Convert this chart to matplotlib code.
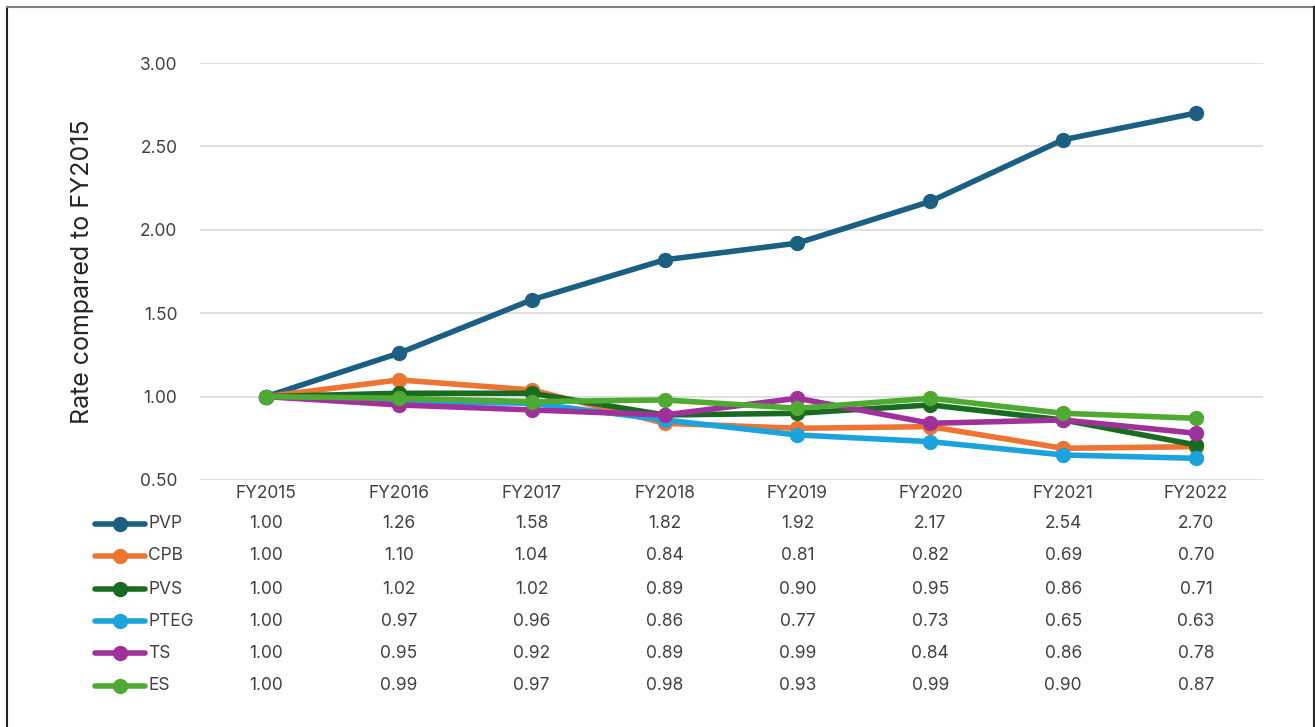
import matplotlib.pyplot as plt
from matplotlib.lines import Line2D
from matplotlib.transforms import blended_transform_factory

plt.rcParams['font.family'] = ['Inter', 'DejaVu Sans']

years = ["FY2015", "FY2016", "FY2017", "FY2018", "FY2019", "FY2020", "FY2021", "FY2022"]
series_names = ["PVP", "CPB", "PVS", "PTEG", "TS", "ES"]
pvp = [1.00, 1.26, 1.58, 1.82, 1.92, 2.17, 2.54, 2.70]
cpb = [1.00, 1.10, 1.04, 0.84, 0.81, 0.82, 0.69, 0.70]
pvs = [1.00, 1.02, 1.02, 0.89, 0.90, 0.95, 0.86, 0.71]
pteg = [1.00, 0.97, 0.96, 0.86, 0.77, 0.73, 0.65, 0.63]
ts = [1.00, 0.95, 0.92, 0.89, 0.99, 0.84, 0.86, 0.78]
es = [1.00, 0.99, 0.97, 0.98, 0.93, 0.99, 0.90, 0.87]
colors = ["#1b5f83", "#ee7433", "#1a6b22", "#1aa3dc", "#a0309a", "#4eaa33"]

all_series = [pvp, cpb, pvs, pteg, ts, es]

W, H = 1315, 727
fs = 12.5
fig = plt.figure(figsize=(W / 100, H / 100), dpi=100)
ax = fig.add_axes([199.5 / W, 1 - 480 / H, 1063 / W, 417 / H])

x = list(range(len(years)))
for name, vals, c in zip(series_names, all_series, colors):
    ax.plot(x, vals, color=c, lw=4, marker="o", ms=10, label=name, zorder=3,
            solid_capstyle="round")

ax.set_xlim(-0.5, len(years) - 0.5)
ax.set_ylim(0.5, 3.0)
ax.set_yticks([0.5, 1.0, 1.5, 2.0, 2.5, 3.0])
ax.set_yticklabels(["%.2f" % v for v in [0.5, 1.0, 1.5, 2.0, 2.5, 3.0]])
ax.set_xticks([])
ax.grid(axis="y", color="#d9d9d9", lw=1.2)
ax.tick_params(axis="y", length=0, labelsize=fs, labelcolor="#404040", pad=16)
for s in ax.spines.values():
    s.set_visible(False)
ax.set_ylabel("Rate compared to FY2015", fontsize=18, color="#262626", labelpad=33)

# data table below the chart
trans = blended_transform_factory(ax.transData, fig.transFigure)
for i, yr in enumerate(years):
    ax.text(i, 1 - 494 / H, yr, transform=trans, ha="center", va="center",
            fontsize=fs, color="#404040", clip_on=False)

row_y = [524, 556, 589, 621, 653, 686]
for name, vals, c, ry in zip(series_names, all_series, colors, row_y):
    fy = 1 - ry / H
    fig.add_artist(Line2D([95 / W, 145 / W], [fy, fy], color=c, lw=4,
                          solid_capstyle="round", transform=fig.transFigure))
    fig.add_artist(Line2D([120 / W], [fy], color=c, marker="o", ms=10, lw=0,
                          transform=fig.transFigure))
    fig.text(148 / W, fy, name, ha="left", va="center", fontsize=fs, color="#404040")
    for i, v in enumerate(vals):
        ax.text(i, fy, "%.2f" % v, transform=trans, ha="center", va="center",
                fontsize=fs, color="#404040", clip_on=False)

# outer frame
fig.add_artist(Line2D([7 / W, 7 / W], [0, 1 - 7 / H], color="#222222", lw=1.5,
                      transform=fig.transFigure))
fig.add_artist(Line2D([7 / W, 1314 / W], [1 - 7 / H, 1 - 7 / H], color="#808080",
                      lw=1.5, transform=fig.transFigure))
fig.add_artist(Line2D([1314 / W, 1314 / W], [0, 1 - 7 / H], color="#222222", lw=1.5,
                      transform=fig.transFigure))

fig.savefig("out.png", dpi=100)
